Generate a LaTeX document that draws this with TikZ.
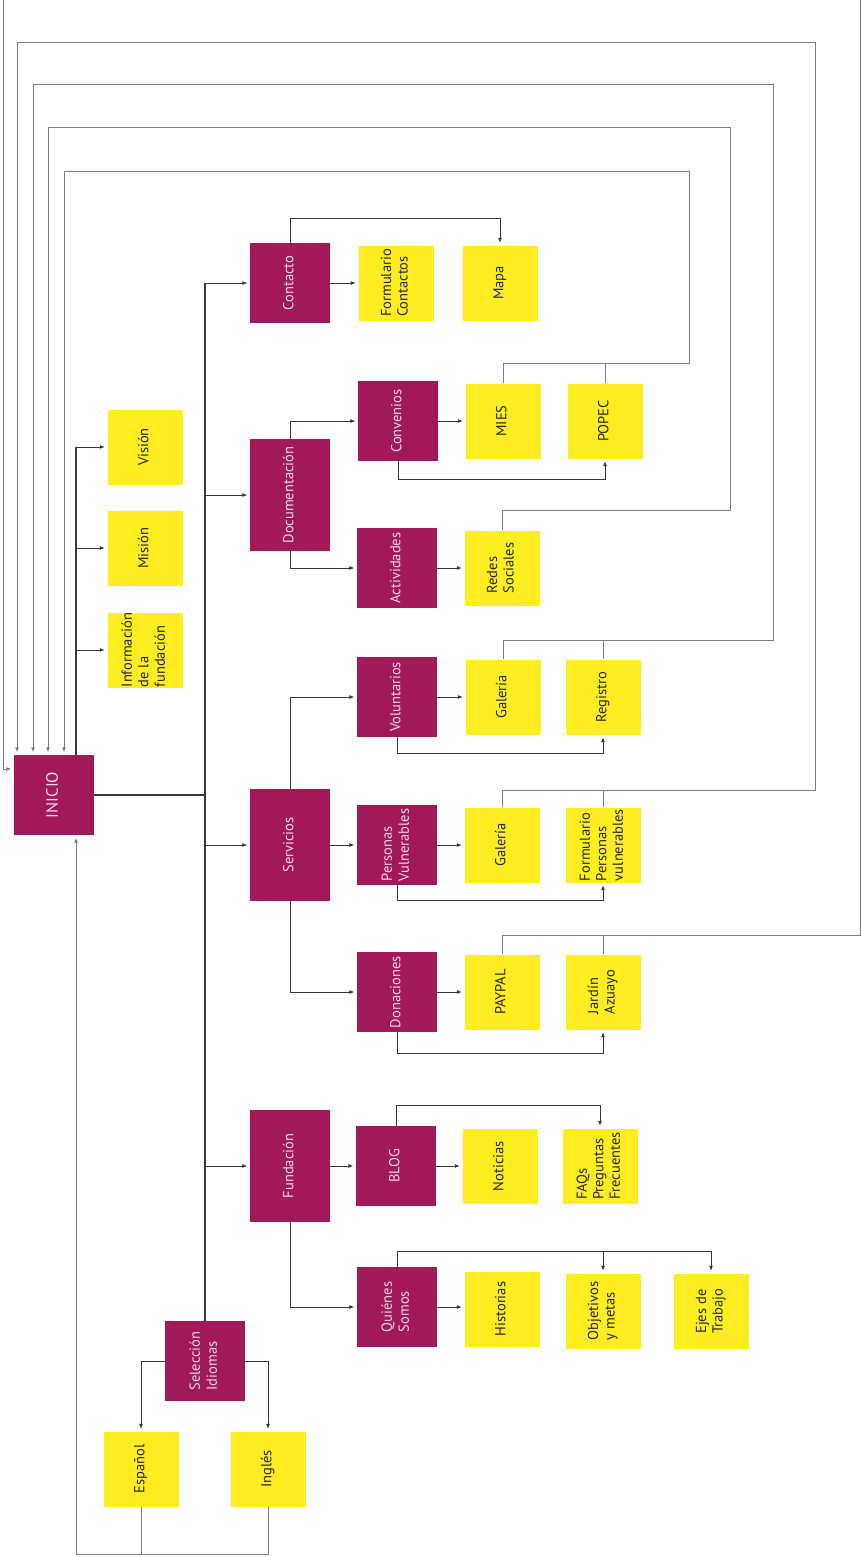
\documentclass[tikz,border=0pt]{standalone}
\usepackage{fontspec}
\setmainfont{PT Sans}
\usetikzlibrary{%
	arrows.meta,%
	calc%
}
\definecolor{vino}{RGB}{161,25,89}
\definecolor{amarillo}{RGB}{253,237,33}
\definecolor{rosado}{RGB}{244,216,230}
\definecolor{oscuro}{RGB}{55,55,55}
\definecolor{gris}{RGB}{125,125,125}
\newcommand{\girado}[1]{\rotatebox{90}{\begin{tabular}{@{}l@{}}#1\end{tabular}}}

\begin{document}
\begin{tikzpicture}[x=1pt,y=-1pt,
	seccion/.style={fill=vino,text=rosado,minimum width=80pt,minimum height=80pt,inner sep=0pt,font=\fontsize{14.5}{17}\selectfont},
	alta/.style={seccion,minimum height=112pt},
	hoja/.style={fill=amarillo,text=black!85,minimum width=75pt,minimum height=75pt,inner sep=0pt,font=\fontsize{14.5}{16.5}\selectfont},
	con/.style={draw=oscuro,line width=0.8pt},
	tronco/.style={draw=oscuro,line width=1.3pt},
	lazo/.style={draw=gris,line width=0.9pt},
	flecha/.style={-{Latex[length=5pt,width=4pt]},shorten >=2.5pt}]
	\useasboundingbox (0,0) rectangle (861,1557);

	% Inicio y primer nivel
	\node[seccion,font=\fontsize{16.5}{19}\selectfont] (inicio) at (54,795) {\girado{INICIO}};
	\node[hoja] (vision) at (145,447) {\girado{Visión}};
	\node[hoja] (mision) at (145,548) {\girado{Misión}};
	\node[hoja] (info) at (145,650) {\girado{Información\\de la\\fundación}};

	\node[seccion] (contacto) at (290,283) {\girado{Contacto}};
	\node[alta] (documentacion) at (290,495) {\girado{Documentación}};
	\node[alta] (servicios) at (290,845) {\girado{Servicios}};
	\node[alta] (fundacion) at (290,1166) {\girado{Fundación}};
	\node[seccion] (idiomas) at (205,1361) {\girado{Selección\\Idiomas}};
	\node[hoja] (espanol) at (141,1469) {\girado{Español}};
	\node[hoja] (ingles) at (268,1469) {\girado{Inglés}};

	% Segundo nivel
	\node[hoja] (formcont) at (396,283) {\girado{Formulario\\Contactos}};
	\node[hoja] (mapa) at (500,283) {\girado{Mapa}};

	\node[seccion] (convenios) at (398,421) {\girado{Convenios}};
	\node[hoja] (mies) at (503,421) {\girado{MIES}};
	\node[hoja] (popec) at (605,421) {\girado{POPEC}};
	\node[seccion] (actividades) at (397,568) {\girado{Actividades}};
	\node[hoja] (redes) at (502,568) {\girado{Redes\\Sociales}};

	\node[seccion] (voluntarios) at (397,697) {\girado{Voluntarios}};
	\node[hoja] (galeria1) at (503,697) {\girado{Galería}};
	\node[hoja] (registro) at (603,697) {\girado{Registro}};
	\node[seccion] (personas) at (397,845) {\girado{Personas\\Vulnerables}};
	\node[hoja] (galeria2) at (502,845) {\girado{Galería}};
	\node[hoja] (formpv) at (603,845) {\girado{Formulario\\Personas\\vulnerables}};
	\node[seccion] (donaciones) at (397,992) {\girado{Donaciones}};
	\node[hoja] (paypal) at (502,992) {\girado{PAYPAL}};
	\node[hoja] (jardin) at (603,992) {\girado{Jardín\\Azuayo}};

	\node[seccion] (blog) at (396,1166) {\girado{BLOG}};
	\node[hoja] (noticias) at (500,1166) {\girado{Noticias}};
	\node[hoja] (faqs) at (600,1166) {\girado{FAQs\\Preguntas\\Frecuentes}};
	\node[seccion] (quienes) at (397,1307) {\girado{Quiénes\\Somos}};
	\node[hoja] (historias) at (502,1309) {\girado{Historias}};
	\node[hoja] (objetivos) at (603,1311) {\girado{Objetivos\\y metas}};
	\node[hoja] (ejes) at (711,1311) {\girado{Ejes de\\Trabajo}};

	% Tronco
	\draw[tronco] (inicio.east) -- (inicio.east -| idiomas.north);
	\draw[tronco] (idiomas.north) -- (idiomas.north |- contacto.west);
	\draw[con,flecha] (idiomas.north |- contacto.west) -- (contacto.west);
	\draw[con,flecha] (idiomas.north |- documentacion.west) -- (documentacion.west);
	\draw[con,flecha] (idiomas.north |- servicios.west) -- (servicios.west);
	\draw[con,flecha] (idiomas.north |- fundacion.west) -- (fundacion.west);

	% Vision, mision, informacion
	\coordinate (isup) at ([xshift=22pt]inicio.north);
	\draw[tronco] (isup) -- (isup |- vision.west);
	\draw[con,flecha] (isup |- vision.west) -- (vision.west);
	\draw[con,flecha] (isup |- mision.west) -- (mision.west);
	\draw[con,flecha] (isup |- info.west) -- (info.west);

	% Idiomas
	\draw[con,flecha] (idiomas.west) -| (espanol.north);
	\draw[con,flecha] (idiomas.east) -| (ingles.north);
	\coordinate (fondo) at (0,1554);
	\draw[lazo] (espanol.south) -- (espanol.south |- fondo);
	\draw[lazo,flecha] (ingles.south) |- ([xshift=22pt]inicio.south |- fondo) -- ([xshift=22pt]inicio.south);

	% Contacto
	\draw[con,flecha] (contacto.east) -- (contacto.east -| formcont.west);
	\draw[con,flecha] (contacto.north) -- ([yshift=24pt]contacto.north) -| (mapa.north);

	% Documentacion
	\draw[con,flecha] (documentacion.north) |- (convenios.west);
	\draw[con,flecha] (documentacion.south) |- (actividades.west);
	\draw[con,flecha] (convenios.east) -- (convenios.east -| mies.west);
	\draw[con,flecha] (convenios.south) -- ([yshift=-18pt]convenios.south) -| (popec.south);
	\draw[con,flecha] (actividades.east) -- (actividades.east -| redes.west);

	% Servicios
	\draw[con,flecha] (servicios.north) |- (voluntarios.west);
	\draw[con,flecha] (servicios.east) -- (personas.west);
	\draw[con,flecha] (servicios.south) |- (donaciones.west);
	\draw[con,flecha] (voluntarios.east) -- (voluntarios.east -| galeria1.west);
	\draw[con,flecha] (voluntarios.south) -- ([yshift=-16pt]voluntarios.south) -| (registro.south);
	\draw[con,flecha] (personas.east) -- (personas.east -| galeria2.west);
	\draw[con,flecha] (personas.south) -- ([yshift=-15pt]personas.south) -| (formpv.south);
	\draw[con,flecha] (donaciones.east) -- (donaciones.east -| paypal.west);
	\draw[con,flecha] (donaciones.south) -- ([yshift=-21pt]donaciones.south) -| (jardin.south);

	% Fundacion
	\draw[con,flecha] (fundacion.east) -- (fundacion.east -| blog.west);
	\draw[con,flecha] (fundacion.south) |- (quienes.west);
	\draw[con,flecha] (blog.east) -- (blog.east -| noticias.west);
	\draw[con,flecha] (blog.north) -- ([yshift=20pt]blog.north) -| (faqs.north);
	\draw[con,flecha] (quienes.east) -- (quienes.east -| historias.west);
	\coordinate (qs) at ([yshift=15pt]quienes.north);
	\draw[con,flecha] (quienes.north) -- (qs) -| (ejes.north);
	\draw[con,flecha] (qs -| objetivos.north) -- (objetivos.north);

	% Regresos a inicio
	\coordinate (c1) at (860,935);
	\coordinate (t1) at (3,-6);
	\draw[lazo,flecha] (paypal.north) |- (c1) |- (t1) |- ([yshift=26pt]inicio.west);
	\draw[lazo] (jardin.north) -- (jardin.north |- c1);

	\coordinate (c2) at (815,790);
	\coordinate (t2) at (17,42);
	\draw[lazo,flecha] (galeria2.north) |- (c2) |- (t2) -- (t2 |- inicio.north);
	\draw[lazo] (formpv.north) -- (formpv.north |- c2);

	\coordinate (c3) at (773,640);
	\coordinate (t3) at (33,84);
	\draw[lazo,flecha] (galeria1.north) |- (c3) |- (t3) -- (t3 |- inicio.north);
	\draw[lazo] (registro.north) -- (registro.north |- c3);

	\coordinate (c4) at (730,510);
	\coordinate (t4) at (48,127);
	\draw[lazo,flecha] (redes.north) |- (c4) |- (t4) -- (t4 |- inicio.north);

	\coordinate (c5) at (689,363);
	\coordinate (t5) at (64,171);
	\draw[lazo,flecha] (mies.north) |- (c5) |- (t5) -- (t5 |- inicio.north);
	\draw[lazo] (popec.north) -- (popec.north |- c5);
\end{tikzpicture}
\end{document}
